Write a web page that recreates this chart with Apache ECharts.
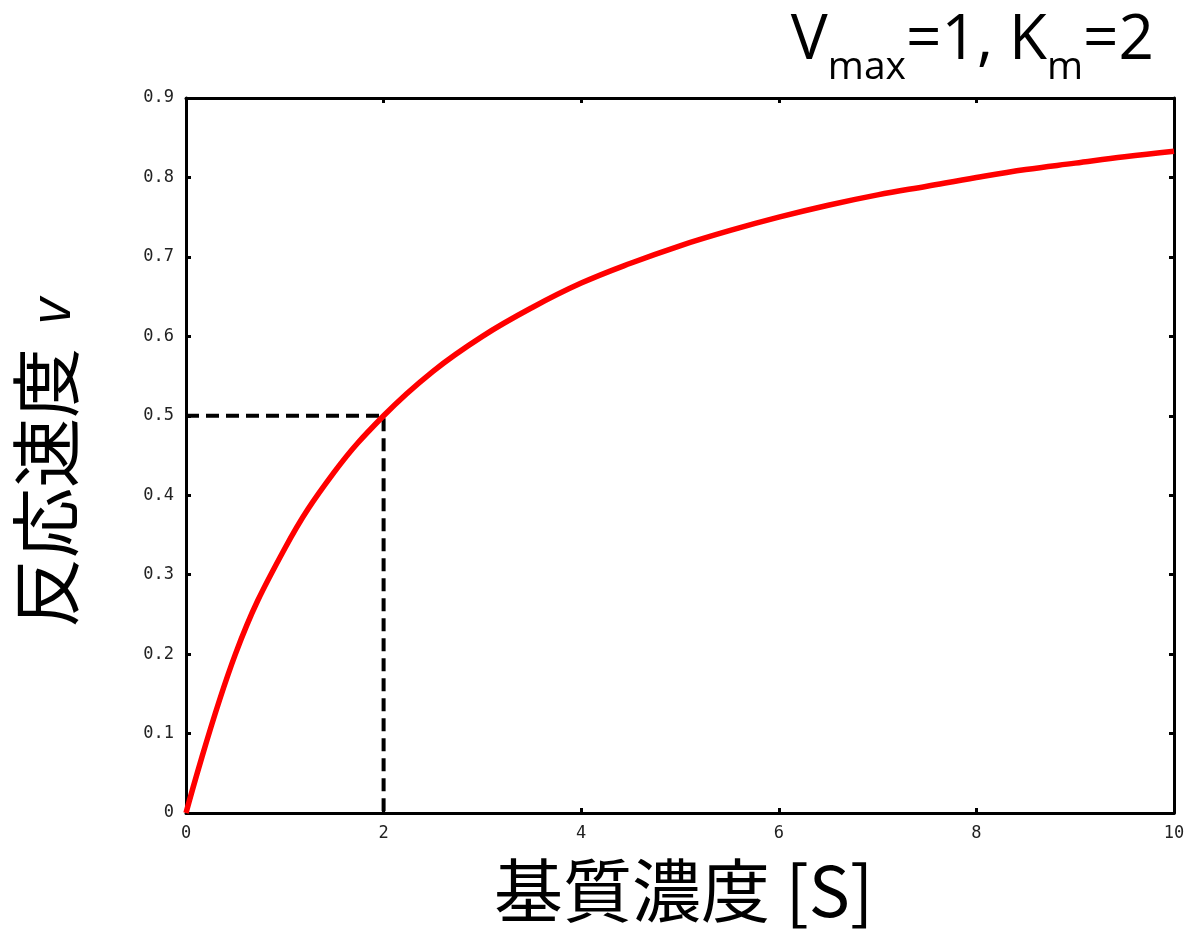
<!DOCTYPE html>
<html><head><meta charset="utf-8">
<script src="https://cdn.jsdelivr.net/npm/echarts@6/dist/echarts.min.js"></script>
<style>html,body{margin:0;padding:0;background:#fff}#c{width:1189px;height:940px}</style>
</head><body><div id="c"></div>
<script>
const substrate = [0,0.5,1,1.5,2,2.5,3,3.5,4,4.5,5,5.5,6,6.5,7,7.5,8,8.5,9,9.5,10];
const velocity = [0,0.2,0.333,0.429,0.5,0.556,0.6,0.636,0.667,0.692,0.714,0.733,0.75,0.765,0.778,0.789,0.8,0.81,0.818,0.826,0.833];
const guideX = [0,2,2];
const guideY = [0.5,0.5,0];
const xTitle = '基質濃度 [S]';
const yTitle = '反応速度 ';

const chart = echarts.init(document.getElementById('c'));
const tickFont = {fontFamily:'DejaVu Sans Mono', fontSize:17, color:'#222'};
const frameLine = {show:true, onZero:false, lineStyle:{color:'#000', width:3}};
const tick = {show:true, inside:true, length:5, lineStyle:{color:'#000', width:3}};
chart.setOption({
  animation:false,
  backgroundColor:'#fff',
  grid:{left:186, right:15, top:98, bottom:127},
  title:{
    right:30, top:-4,
    text:'{v|V}{s|max}{v|=1, K}{s|m}{v|=2}',
    textStyle:{rich:{
      v:{fontFamily:'Open Sans', fontWeight:'normal', fontSize:62, color:'#000', verticalAlign:'middle', lineHeight:80},
      s:{fontFamily:'Open Sans', fontWeight:'normal', fontSize:39, color:'#000', verticalAlign:'bottom', lineHeight:34, padding:[0,0,-6,0]}
    }}
  },
  graphic:[
    {type:'text', left:494, top:856, style:{text:xTitle, font:'69px "Noto Sans CJK JP"', fill:'#000'}},
    {type:'group', x:11, y:628, rotation:Math.PI/2, children:[
      {type:'text', x:0, y:0, style:{text:yTitle, font:'70px "Noto Sans CJK JP"', fill:'#000', textVerticalAlign:'top'}},
      {type:'text', x:304, y:15, style:{text:'v', font:'italic 56px "Open Sans"', fill:'#000', textVerticalAlign:'top'}}
    ]}
  ],
  xAxis:[
    {type:'value', min:0, max:10, interval:2, position:'bottom',
     axisLine:frameLine, axisTick:tick, splitLine:{show:false},
     axisLabel:Object.assign({margin:12}, tickFont)},
    {type:'value', min:0, max:10, interval:2, position:'top',
     axisLine:frameLine, axisTick:tick, splitLine:{show:false}, axisLabel:{show:false}}
  ],
  yAxis:[
    {type:'value', min:0, max:0.9, interval:0.1, position:'left',
     axisLine:frameLine, axisTick:tick, splitLine:{show:false},
     axisLabel:Object.assign({margin:12}, tickFont)},
    {type:'value', min:0, max:0.9, interval:0.1, position:'right',
     axisLine:frameLine, axisTick:tick, splitLine:{show:false}, axisLabel:{show:false}}
  ],
  series:[
    {type:'line', data:guideX.map((x,i)=>[x,guideY[i]]), symbol:'none',
     lineStyle:{color:'#000', width:4, type:[13,7]}, z:2},
    {type:'line', data:substrate.map((x,i)=>[x,velocity[i]]), symbol:'none', smooth:0.4,
     lineStyle:{color:'#ff0000', width:5.5}, z:3}
  ]
});
</script></body></html>
